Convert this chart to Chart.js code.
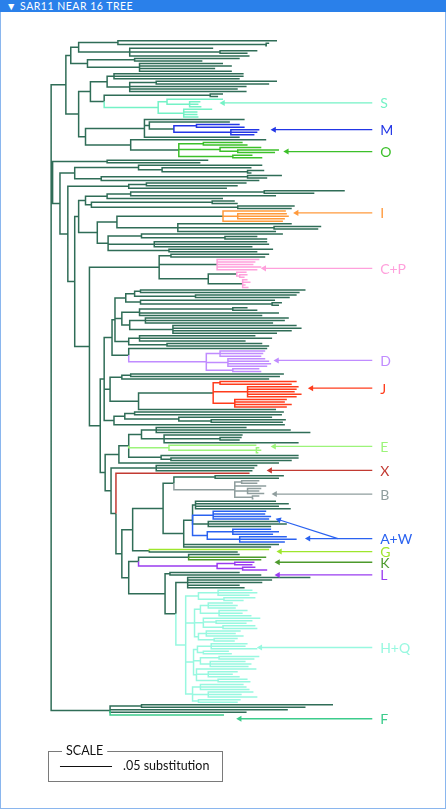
<!DOCTYPE html>
<html>
<head>
<meta charset="utf-8">
<script src="https://cdn.jsdelivr.net/npm/chart.js@4"></script>
<style>
  html, body { margin: 0; padding: 0; background: #fff; }
  #page { position: relative; width: 446px; height: 810px; overflow: hidden; }
  #frame { position: absolute; left: 0; top: 0; width: 446px; height: 809px; box-sizing: border-box;
           border: 1px solid #8ab6ee; pointer-events: none; }
  #hdr { position: absolute; left: 0; top: 0; width: 446px; height: 12px; background: #2a80ea;
         color: #fff; font: 10.5px Lato, sans-serif; line-height: 12px; padding-left: 6px; box-sizing: border-box;
         letter-spacing: 0.5px; }
  canvas { position: absolute; left: 0; top: 0; }
</style>
</head>
<body>
<div id="page">
  <canvas id="tree" width="446" height="810"></canvas>
  <div id="frame"></div>
  <div id="hdr">▼ SAR11 NEAR 16 TREE</div>
</div>
<script>
// Tree data: a node is [depth, ...children], a leaf is a depth number.
// A leading letter marks a coloured clade (capital: stem coloured too, small: stem keeps parent colour).
// Depth unit: scale bar = 53 units = .05 substitution.
const cladeS = ['S', 109, [118, 175, [141, 152, 150, 153]], [135, 164, 149, 149, 150]];
const cladeM = ['m', 125, [148, 192, 197], [183, 212, 210, 207]];
const cladeO = ['o', 130, [155, 195, 200], [172, 214, [190, 232, 228]], [185, 205, 215]];
const cladeI = ['i', 175, 239, [190, 240, 242, 238], 236];
const cladeCP = [110, [122, 222, 218], ['p', 169, 212, 208, 206, 214, 210],
  [160, ['p', 189, 199, [192, 200, 197]], ['p', 195, 200, 203, 198, 201]]];
const cladeBig = [65,
  [76, [85, [91, 259, 253], [147, 250, 243]], [91, 228, [225, 235, 232]]],
  [72, [90, [185, 200, 210], 232, 215], [80, [96, 242, 238, 226], [124, 250, 255, 245, 230]]],
  [79, [90, 208, 225, 198], [118, 215, 222]]];
const cladeD = [79, 220, ['D', 158, [172, 218, 216, 214], [180, 218, 222, 224, 220], [185, 212, 214]]];
const cladeJ = [60, [72, [81, 237, 233], 222],
  [89, ['j', 165, [172, 250, 245], [200, 252, 250, 248, 255, 250], [187, 240, 238, 245, 240]], 229]];
const groupBelowJ = [64, [75, [85, 237, 235], [130, 225, [163, 239, 236]]], 238];
const cladeE = [69,
  [79, [92, [107, 199, 244, 264], [115, 195, [172, 194, 192], 252]],
       ['E', 120, 209, [209, 212, 214, 211]],
       [112, 252, [122, 252, 245]]],
  232];
const cladeB = [125, [167, 237, 232], ['B', 187, [194, 212, 210], 219, [200, 214, 212, 217], [205, 212, 206]]];
const cladeAW = [135,
  [144, [147, 229, 242, 232, 244], ['W', 165, 219, 218, 224, 222], [160, 232, 240, 224],
        ['W', 159, [185, 224, 232, 226], [192, 240, 250, 238]]],
  232, 224];
const cladeG = [100, ['G', 222], 190];
const cladeKL = [89, [140, 192, ['K', 219], ['K', 214]], ['L', 169, [187, 207, 205], [195, 208, 220]]];
const cladeHQ = ['H', 137,
  [150, [170, 205, 210, 202], [176, 208, 196]],
  [146, [152, [160, 185, 190, 188], [171, 200, 195, 204]], [155, 213, [168, 205, 199], [175, 208, 210]],
        [150, [158, 193, 188, 196], [166, 190, 187]]],
  [145, [149, [163, 200, 198, 210], [155, 181, 184]], [152, [171, 212, 207], [162, 198, 204, 201]],
        [148, 209, [160, 190, 185, 192], [170, 200, 203]]],
  [144, [152, 196, 199, 202], [160, 206, 194, 210], [150, 193, 190]]];
const cladeF = [60, [92, 287, 259], 241, 199, ['F', 176]];

const topClade = [15,
  [20, [28, [68, 230, [219, 222, 218]], [80, 165, [172, 210, 200], 202]],
       [37, [85, 192, 154], [90, 175, 184, 167, 184]]],
  [28, [40, [57, [64, 196, 196, 192], [80, [107, 230, 222], 199, 190, 199]],
            [54, [162, 175, 170], cladeS]],
       [35, [95, 197, [100, 182, cladeM], 192],
            [81, 219, cladeO]]]];

const lowerLadder = [55, cladeE,
  [61, [107, 210, 207, 205],
    [66, ['X', 202],
      [72, [83, [114, cladeB, cladeAW], cladeG],
           [79, cladeKL, [116, [121, 192, 214], [127, [139, 264, 225, 215, 192, 197], cladeHQ]]]]]]];

const midClade = [1.5, [57, 160, 152],
  [9, [24, [89, 215, [113, 204, [200, 217, 204]]], [51, [200, 235, 220], 212]],
      [17, [79, [97, 199, 190], 179],
           [24, [28, [35, [57, [81, [217, 299, 268], 229], 175], [41, [164, 187, 190], [190, 248, 245]]],
                     [47, [67, cladeI, [129, 245, [227, 275, 272], 229]],
                          [58, [92, 236, [177, 210, 220]], [105, 220, 222, 205], [120, 226, 210]]]],
                [39, cladeCP, [50, [54, [62, cladeBig, cladeD], cladeJ, groupBelowJ], lowerLadder]]]]]];

const treeRoot = [0, topClade, midClade, cladeF];

const cladeKeys = ['T', 'S', 'M', 'O', 'I', 'P', 'D', 'J', 'E', 'X', 'B', 'W', 'G', 'K', 'L', 'H', 'F'];
const cladeColors = ['#2f6d57', '#74f2c6', '#2236e6', '#3cc02a', '#ff9a3c', '#ffa0dc', '#c08cff', '#ff3c1c',
  '#9cf47a', '#c23a32', '#8f9e9e', '#2a62f0', '#9ee62c', '#4c9a2c', '#9a3cf0', '#98f8e0', '#3ccc8c'];

// labels at the right, row = leaf row, head = depth of arrow tip
const labelNames = ['S', 'M', 'O', 'I', 'C+P', 'D', 'J', 'E', 'X', 'B', 'A+W', 'G', 'K', 'L', 'H+Q', 'F'];
const labelKeys = ['S', 'M', 'O', 'I', 'P', 'D', 'J', 'E', 'X', 'B', 'W', 'G', 'K', 'L', 'H', 'F'];
const labelRows = [24.5, 35, 43.6, 67.7, 89.5, 125.7, 136.6, 159.5, 168.9, 178.2, 195.7, 200.8, 205, 210, 238.5, 266.5];
const labelHeads = [172, 224, 237, 247, 214, 227, 262, 224, 220, 225, 259, 230, 228, 228, 210, 189];
const arrowStart = 327;
const labelDepth = 335;
const extraArrow = { from: [292, 195.7], to: [229, 187.9] }; // second A+W arrow
const scaleBarLength = 53;   // .05 substitution
const scaleBarStart = 9;

// walk the tree, one line list per colour
const segs = {};
cladeKeys.forEach(k => { segs[k] = []; });
let leafRow = 0;

function walk(node, col) {
  let arr = typeof node === 'number' ? [node] : node;
  let stem = col;
  if (typeof arr[0] === 'string') {
    const tag = arr[0];
    col = tag.toUpperCase();
    if (tag === col) stem = col;
    arr = arr.slice(1);
  }
  const depth = arr[0];
  if (arr.length === 1) return { y: leafRow++, depth, col: stem };
  const kids = arr.slice(1).map(k => walk(k, col));
  const y = (kids[0].y + kids[kids.length - 1].y) / 2;
  kids.forEach(k => {
    segs[k.col].push({ x: depth, y: y }, { x: depth, y: k.y }, { x: k.depth, y: k.y }, { x: NaN, y: NaN });
  });
  return { y, depth, col: stem };
}
walk(treeRoot, 'T');
const leafCount = leafRow;

// first leaf at y=37, last at y=718 of an 810 px canvas
const H = 810;
const span = (leafCount - 1) * H / (718 - 37);
const yMin = -37 * span / H;
const yMax = yMin + span;

const colorOf = k => cladeColors[cladeKeys.indexOf(k)];

const datasets = [];
cladeKeys.forEach(k => {
  datasets.push({
    data: segs[k], showLine: true, spanGaps: false, pointRadius: 0,
    borderColor: colorOf(k), borderWidth: 1.5,
    order: k === 'T' ? 10 : 5
  });
});
labelNames.forEach((name, i) => {
  datasets.push({
    data: [{ x: arrowStart, y: labelRows[i] }, { x: labelHeads[i] + 3, y: labelRows[i] }],
    showLine: true, borderColor: colorOf(labelKeys[i]), borderWidth: 1.3,
    pointRadius: [0, 3.5], pointStyle: 'triangle', pointRotation: -90,
    pointBackgroundColor: colorOf(labelKeys[i]), pointBorderWidth: 0, order: 1
  });
});
datasets.push({
  data: [{ x: extraArrow.from[0], y: extraArrow.from[1] }, { x: extraArrow.to[0] + 3, y: extraArrow.to[1] + 0.4 }],
  showLine: true, borderColor: colorOf('W'), borderWidth: 1.3,
  pointRadius: [0, 3.5], pointStyle: 'triangle', pointRotation: -72,
  pointBackgroundColor: colorOf('W'), pointBorderWidth: 0, order: 1
});

const textPlugin = {
  id: 'treeText',
  afterDatasetsDraw(chart) {
    const { ctx } = chart;
    const xs = chart.scales.x, ys = chart.scales.y;
    ctx.save();
    ctx.textBaseline = 'middle';
    ctx.font = '14px Lato, sans-serif';
    labelNames.forEach((name, i) => {
      ctx.fillStyle = colorOf(labelKeys[i]);
      ctx.fillText(name, xs.getPixelForValue(labelDepth), ys.getPixelForValue(labelRows[i]) + 1);
    });
    // scale box
    ctx.strokeStyle = '#7a7a7a';
    ctx.lineWidth = 1;
    ctx.strokeRect(48.5, 751.5, 174, 30);
    ctx.font = '12.5px Lato, sans-serif';
    const w = ctx.measureText('SCALE').width;
    ctx.fillStyle = '#fff';
    ctx.fillRect(62, 745, w + 8, 12);
    ctx.fillStyle = '#111';
    ctx.fillText('SCALE', 66, 751);
    const x0 = xs.getPixelForValue(scaleBarStart), x1 = xs.getPixelForValue(scaleBarStart + scaleBarLength);
    ctx.strokeStyle = '#111';
    ctx.beginPath();
    ctx.moveTo(x0, 766.5);
    ctx.lineTo(x1, 766.5);
    ctx.stroke();
    ctx.fillText('.05 substitution', x1 + 11, 766);
    ctx.restore();
  }
};

new Chart(document.getElementById('tree').getContext('2d'), {
  type: 'scatter',
  data: { datasets },
  options: {
    responsive: false,
    animation: false,
    events: [],
    layout: { padding: 0 },
    plugins: { legend: { display: false }, tooltip: { enabled: false } },
    scales: {
      x: { type: 'linear', display: false, min: -48, max: 398 },
      y: { type: 'linear', display: false, min: yMin, max: yMax, reverse: true }
    }
  },
  plugins: [textPlugin]
});
</script>
</body>
</html>
